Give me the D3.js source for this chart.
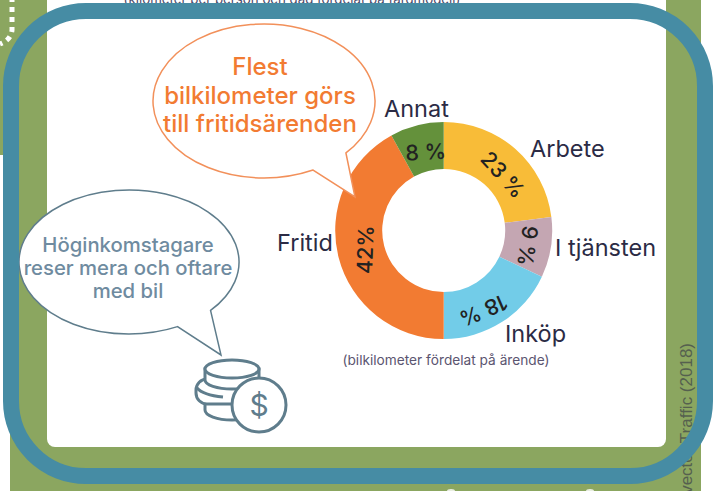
<!DOCTYPE html>
<html>
<head>
<meta charset="utf-8">
<script src="https://cdn.jsdelivr.net/npm/d3@7"></script>
<style>
  html, body { margin: 0; padding: 0; background: #fff; }
  svg { display: block; }
  text { font-family: Inter, Lato, sans-serif; }
</style>
</head>
<body>
<svg id="chart"></svg>
<script>
const categories = ["Arbete", "I tjänsten", "Inköp", "Fritid", "Annat"];
const values = [23, 9, 18, 42, 8];
const valueLabels = ["23 %", "9 %", "18 %", "42%", "8 %"];
const sliceColors = ["#f8bc38", "#c4a6b2", "#72cce8", "#f27b32", "#64913b"];

const orangeLines = ["Flest", "bilkilometer görs", "till fritidsärenden"];
const greyLines = ["Höginkomstagare", "reser mera och oftare", "med bil"];

const width = 718, height = 491;
const cx = 443.7, cy = 230.5, outerR = 108.5, innerR = 61.5;

const green = "#8ba660", blue = "#468ca4", orange = "#f27b32", slate = "#5f7d8c", ink = "#2b2b45";

const svg = d3.select("#chart").attr("width", width).attr("height", height);

// bakgrund: grön ram med vit panel
svg.append("rect").attr("width", width).attr("height", height).attr("fill", "#fff");
svg.append("rect").attr("x", 0).attr("y", 0).attr("width", 60).attr("height", 155).attr("fill", green);
svg.append("rect").attr("x", 10).attr("y", 100).attr("width", 691).attr("height", 391).attr("fill", green);
svg.append("rect").attr("x", 660).attr("y", 0).attr("width", 41).attr("height", 200).attr("fill", green);
svg.append("rect").attr("x", 47).attr("y", -20).attr("width", 619).attr("height", 467).attr("rx", 8).attr("fill", "#fff");

// prickad linje uppe till vänster
svg.append("path")
    .attr("d", "M12,-3 L12,30 Q11,40 0,44")
    .attr("fill", "none").attr("stroke", "#fff")
    .attr("stroke-width", 5).attr("stroke-dasharray", "5 5");

// vita toppar längst ner
svg.append("ellipse").attr("cx", 451).attr("cy", 491).attr("rx", 4).attr("ry", 2).attr("fill", "#e8ede0");
svg.append("ellipse").attr("cx", 590).attr("cy", 491).attr("rx", 4).attr("ry", 2).attr("fill", "#e8ede0");

// bortklippta texter
svg.append("text")
    .attr("x", 292).attr("y", 4).attr("text-anchor", "middle")
    .attr("font-size", 13.3).attr("fill", "#4b4a6a")
    .text("(kilometer per person och dag fördelat på färdmodell)");
svg.append("text")
    .attr("transform", "translate(692,343) rotate(-90)")
    .attr("text-anchor", "end").attr("font-size", 17)
    .style("font-family", "'Liberation Sans'").attr("fill", "#55604f")
    .text("vector Traffic (2018)");

// munk
const pie = d3.pie().sort(null).value(d => d);
const arc = d3.arc().innerRadius(innerR).outerRadius(outerR);
const arcs = pie(values);

const donut = svg.append("g").attr("transform", `translate(${cx},${cy})`);
donut.selectAll("path")
    .data(arcs)
    .join("path")
    .attr("d", arc)
    .attr("fill", (d, i) => sliceColors[i]);

// vridning och förskjutning för etiketterna i ringen
const valueRotate = [48, 98, 157, -88, -3];
const valueShift = [[3, 8], [0, 2], [-6, 8], [4, -2], [3, 4]];
donut.selectAll("text.value")
    .data(arcs)
    .join("text")
    .attr("class", "value")
    .attr("transform", (d, i) => {
        const c = arc.centroid(d);
        return `translate(${c[0] + valueShift[i][0]},${c[1] + valueShift[i][1]}) rotate(${valueRotate[i]})`;
    })
    .attr("text-anchor", "middle")
    .attr("dy", "0.35em")
    .attr("font-size", 21.5)
    .attr("font-weight", 500)
    .attr("fill", "#222")
    .text((d, i) => valueLabels[i]);

// kategorinamn utanför ringen
const catX = [530, 555, 505, 277, 384];
const catY = [157, 256, 342, 251, 117];
svg.selectAll("text.cat")
    .data(categories)
    .join("text")
    .attr("class", "cat")
    .attr("x", (d, i) => catX[i])
    .attr("y", (d, i) => catY[i])
    .attr("font-size", 23.5)
    .attr("fill", ink)
    .text(d => d);

svg.append("text")
    .attr("x", 446).attr("y", 365).attr("text-anchor", "middle")
    .attr("font-size", 13.7).attr("fill", "#5b5570")
    .text("(bilkilometer fördelat på ärende)");

// pratbubblor
function bubble(ex, ey, rx, ry, tail, stroke) {
    const a0 = Math.atan2((tail[0][1] - ey) / ry, (tail[0][0] - ex) / rx);
    const a1 = Math.atan2((tail[2][1] - ey) / ry, (tail[2][0] - ex) / rx);
    const p0 = [ex + rx * Math.cos(a0), ey + ry * Math.sin(a0)];
    const p1 = [ex + rx * Math.cos(a1), ey + ry * Math.sin(a1)];
    svg.append("path")
        .attr("d", `M${p1} A${rx},${ry} 0 1 0 ${p0} L${tail[1]} Z`)
        .attr("fill", "#fff").attr("stroke", stroke).attr("stroke-width", 1.5);
}
bubble(264, 101, 111, 77, [[313, 170], [355, 197], [346, 153]], "#f2905a");
bubble(129, 262, 110, 72, [[177, 326], [221, 355], [210, 310]], slate);

svg.selectAll("text.orange")
    .data(orangeLines)
    .join("text")
    .attr("class", "orange")
    .attr("x", 260)
    .attr("y", (d, i) => 75 + i * 28.5)
    .attr("text-anchor", "middle")
    .attr("font-size", 24)
    .attr("font-weight", 500)
    .attr("fill", orange)
    .text(d => d);

svg.selectAll("text.grey")
    .data(greyLines)
    .join("text")
    .attr("class", "grey")
    .attr("x", 128)
    .attr("y", (d, i) => 252 + i * 23)
    .attr("text-anchor", "middle")
    .attr("font-size", 20.3)
    .attr("font-weight", 500)
    .attr("fill", "#6f8ba0")
    .text(d => d);

// myntikon
const coins = svg.append("g").attr("fill", "#fff").attr("stroke", slate).attr("stroke-width", 3);
coins.append("path").attr("d", "M205,398 v12 a27,10 0 0 0 54,0 v-12 z");
coins.append("rect").attr("x", 196).attr("y", 379).attr("width", 62).attr("height", 25).attr("rx", 11);
coins.append("path").attr("d", "M197,388 q6,7 26,9").attr("fill", "none");
coins.append("path").attr("d", "M205,369 v11 a27,9 0 0 0 54,0 v-11 z");
coins.append("ellipse").attr("cx", 232).attr("cy", 369).attr("rx", 27).attr("ry", 9);
coins.append("circle").attr("cx", 259).attr("cy", 405).attr("r", 27);
svg.append("text").attr("x", 259).attr("y", 416).attr("text-anchor", "middle")
    .attr("font-size", 30).attr("fill", slate).text("$");

// blå ram överst
svg.append("rect")
    .attr("x", 11).attr("y", 11).attr("width", 694).attr("height", 465).attr("rx", 75)
    .attr("fill", "none").attr("stroke", blue).attr("stroke-width", 16);
</script>
</body>
</html>
